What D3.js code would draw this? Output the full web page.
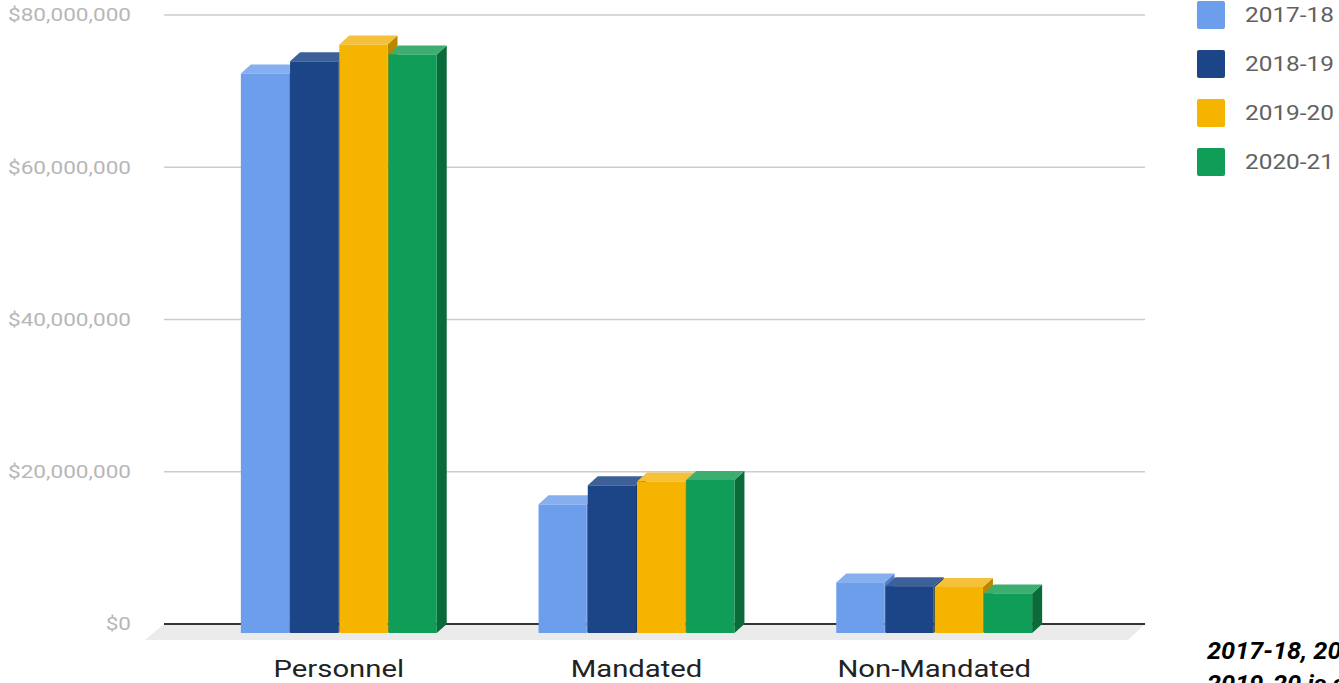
<!DOCTYPE html>
<html>
<head>
<meta charset="utf-8">
<script src="https://cdn.jsdelivr.net/npm/d3@7"></script>
<style>
  html, body { margin: 0; padding: 0; background: #fff; overflow: hidden; }
  svg { display: block; font-family: Roboto, "Noto Sans", sans-serif; }
</style>
</head>
<body>
<svg id="chart" width="1339" height="683"></svg>
<script>
// Spending by category and fiscal year (USD)
const categories = ["Personnel", "Mandated", "Non-Mandated"];
const years = ["2017-18", "2018-19", "2019-20", "2020-21"];
const values2017 = [73500000, 16900000, 6650000];
const values2018 = [75100000, 19400000, 6150000];
const values2019 = [77300000, 19900000, 6050000];
const values2020 = [76000000, 20100000, 5200000];
const yTicks = [0, 20000000, 40000000, 60000000, 80000000];
const noteLines = ["2017-18, 2018-19 and", "2019-20 is actual spending"];

const seriesValues = [values2017, values2018, values2019, values2020];
const colors = {
  front: ["#6d9eeb", "#1c4587", "#f4b400", "#0f9d58"],
  top:   ["#86aff0", "#3d6099", "#f5c03a", "#3cae70"],
  side:  ["#4f7ecb", "#13346b", "#b98800", "#0a6a39"]
};

const svg = d3.select("#chart");
const stretch = 1.22;               // horizontal text widening
const depthX = 10, depthY = -9;     // offset from front plane to back plane

const x = d3.scaleBand().domain(categories).range([145, 1128])
  .paddingInner(0.342).paddingOuter(0.322);
const xs = d3.scaleBand().domain(years).range([0, x.bandwidth()]).paddingInner(0.02);
const y = d3.scaleLinear().domain([0, 80000000]).range([633, 24]);
const fmt = d3.format("$,");

const gridLeft = 164, gridRight = 1145;

// floor
svg.append("polygon")
  .attr("points", [[gridLeft, y(0) + depthY], [gridRight, y(0) + depthY],
                   [gridRight - 17, y(0) + 7], [gridLeft - 19, y(0) + 7]].join(" "))
  .attr("fill", "#ebebeb");

// gridlines on the back plane
svg.append("g").selectAll("line").data(yTicks).join("line")
  .attr("x1", gridLeft).attr("x2", gridRight)
  .attr("y1", d => y(d) + depthY).attr("y2", d => y(d) + depthY)
  .attr("stroke", d => d === 0 ? "#333" : "#cccccc")
  .attr("stroke-width", d => d === 0 ? 2 : 1.3);

// y tick labels
svg.append("g").selectAll("text").data(yTicks).join("text")
  .attr("transform", d => `translate(131,${y(d) + depthY}) scale(${stretch},1)`)
  .attr("dy", "0.35em")
  .attr("text-anchor", "end")
  .attr("font-size", 18.5)
  .attr("fill", "#b7b7b7")
  .text(d => fmt(d));

// bars
const bars = [];
categories.forEach((c, ci) => {
  years.forEach((yr, si) => {
    bars.push({ cat: c, year: yr, si, value: seriesValues[si][ci] });
  });
});

const barG = svg.append("g").selectAll("g").data(bars).join("g");
barG.each(function(d) {
  const g = d3.select(this);
  const x0 = x(d.cat) + xs(d.year), w = xs.bandwidth();
  const yt = y(d.value), yb = y(0);
  g.append("polygon")
    .attr("points", [[x0 + w, yt], [x0 + w + depthX, yt + depthY],
                     [x0 + w + depthX, yb + depthY], [x0 + w, yb]].join(" "))
    .attr("fill", colors.side[d.si]);
  g.append("polygon")
    .attr("points", [[x0, yt], [x0 + depthX, yt + depthY],
                     [x0 + w + depthX, yt + depthY], [x0 + w, yt]].join(" "))
    .attr("fill", colors.top[d.si]);
  g.append("rect")
    .attr("x", x0).attr("y", yt).attr("width", w).attr("height", yb - yt)
    .attr("fill", colors.front[d.si]);
});

// category labels
svg.append("g").selectAll("text").data(categories).join("text")
  .attr("transform", d => `translate(${x(d) + x.bandwidth() / 2},677) scale(${stretch},1)`)
  .attr("text-anchor", "middle")
  .attr("font-size", 24)
  .attr("fill", "#222")
  .text(d => d);

// legend
const legend = svg.append("g").selectAll("g").data(years).join("g")
  .attr("transform", (d, i) => `translate(1197,${15 + i * 49})`);
legend.append("rect")
  .attr("x", 0).attr("y", -14).attr("width", 28).attr("height", 28).attr("rx", 2)
  .attr("fill", (d, i) => colors.front[i]);
legend.append("text")
  .attr("transform", `translate(48,0) scale(${stretch},1)`)
  .attr("dy", "0.35em")
  .attr("font-size", 20)
  .attr("fill", "#616161")
  .text(d => d);

// note
svg.append("g").selectAll("text").data(noteLines).join("text")
  .attr("transform", (d, i) => `translate(1207,${659 + i * 33}) scale(1.1,1)`)
  .attr("font-size", 23)
  .attr("font-weight", "bold")
  .attr("font-style", "italic")
  .attr("fill", "#000")
  .text(d => d);
</script>
</body>
</html>
